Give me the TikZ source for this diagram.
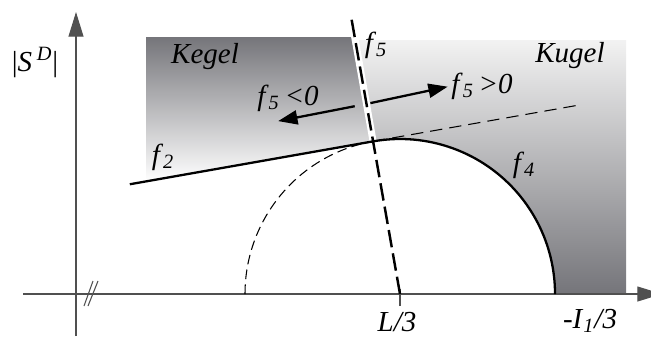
\documentclass[tikz,border=0pt]{standalone}
\usepackage{fontspec}
\setmainfont{Liberation Serif}[ItalicFont={Liberation Serif Italic}]
\usetikzlibrary{arrows.meta, calc}
\definecolor{fkdark}{HTML}{75757A}
\definecolor{fklight}{HTML}{F2F2F2}
\definecolor{fkaxis}{HTML}{505050}
\newcommand{\fsub}[1]{\textit{f}\textsubscript{\textit{#1}}}

\begin{document}
\begin{tikzpicture}[
  x=0.02cm, y=0.02cm,
  every node/.style={font=\fontsize{16.5}{19}\selectfont},
  axis/.style={draw=fkaxis, line width=0.6pt},
  axisarrow/.style={axis, -{Triangle[length=14pt, width=8.5pt]}},
  yieldline/.style={line width=1.3pt},
  guide/.style={line width=0.6pt, dash pattern=on #1},
  arrow/.style={-{Triangle[length=11pt, width=8pt]}, line width=1.3pt},
]
\useasboundingbox (0,0) rectangle (651,336);

\coordinate (C) at (400,42);
\coordinate (P) at ($(C)+(100:155)$);
\coordinate (f5top) at ($(C)+(100:280)$);
\coordinate (f5mid) at ($(C)+(100:140)$);
\coordinate (f2left) at ($(P)+(190:247)$);
\coordinate (f2right) at ($(P)+(10:210)$);
\coordinate (Q) at ($(C)+(100:193)$);

% shaded regions
\shade[top color=fkdark, bottom color=white] (146,299) -- (354.7,299) -- (P) -- (146,154.6) -- cycle;
\shade[top color=fklight, bottom color=fkdark] (355.2,296) -- (626,296) -- (626,42) -- (555,42)
  arc[start angle=0, end angle=100, radius=155] -- cycle;

% axes
\draw[axisarrow] (76,0) -- (76,324);
\draw[axisarrow] (23,42) -- (662,42);
\draw[axis] (84,30) -- (93,55) (88,30) -- (98,55);
\draw[axis] (400,30) -- (400,47);

% f5 halo
\draw[white, line width=4pt] (f5mid) -- (f5top);

% circle and f2
\draw[guide={5.5pt off 3pt}] (245,42) arc[start angle=180, end angle=100, radius=155];
\draw[yieldline] (P) arc[start angle=100, end angle=0, radius=155];
\draw[yieldline] (f2left) -- (P);
\draw[guide={7pt off 4pt}] (P) -- (f2right);

% f5
\draw[line width=1.4pt, dash pattern=on 10pt off 3.5pt] (C) -- (f5top);

% direction arrows
\coordinate (negfrom) at ($(Q)+(191:12)$);
\coordinate (negto) at ($(Q)+(191:90)$);
\coordinate (posfrom) at ($(Q)+(12:4)$);
\coordinate (posto) at ($(Q)+(12:83)$);
\draw[arrow] (negfrom) -- (negto);
\draw[arrow] (posfrom) -- (posto);

% labels
\node (sd) at (35,274) {\textup{|}\textit{S}\,\textsuperscript{\textit{D}}\textup{|}};
\node (kegel) at (205,279) {\textit{Kegel}};
\node (kugel) at (570,280) {\textit{Kugel}};
\node (f5lbl) at (376,291) {\fsub{5}};
\node (f5pos) at (482,250) {\fsub{5}\,\textit{>0}};
\node (f5neg) at (288,238) {\fsub{5}\,\textit{<0}};
\node (f2lbl) at (163,179) {\fsub{2}};
\node (f4lbl) at (524,171) {\fsub{4}};
\node (xl3) at (397,14) {\textit{L/3}};
\node (xi1) at (590,15) {\textit{-I}\textsubscript{\textit{1}}\textit{/3}};
\end{tikzpicture}
\end{document}
